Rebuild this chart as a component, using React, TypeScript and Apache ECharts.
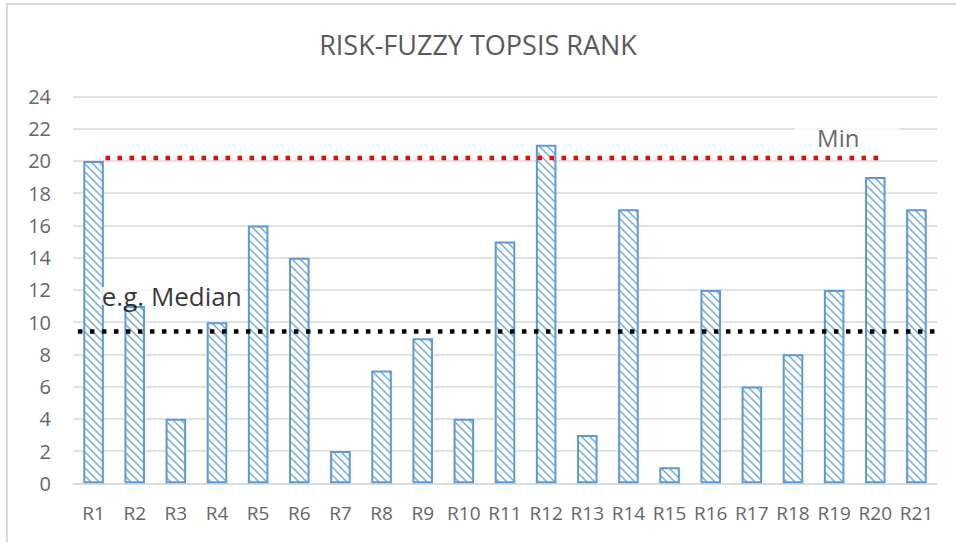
import React, { useEffect, useRef } from "react";
import * as echarts from "echarts";

const categories = ["R1","R2","R3","R4","R5","R6","R7","R8","R9","R10","R11","R12","R13","R14","R15","R16","R17","R18","R19","R20","R21"];
const rankValues = [20, 11, 4, 10, 16, 14, 2, 7, 9, 4, 15, 21, 3, 17, 1, 12, 6, 8, 12, 19, 17];
const yTicks = { min: 0, max: 24, interval: 2 };
// reference lines: x positions in category-index units, y in rank units
const minLineX = [0.29, 19.12];
const minLineY = 20.18;
const medianLineX = [-0.38, 20.5];
const medianLineY = 9.42;
const minLabelPos = [18.1, 21.45];
const medianLabelPos = [1.9, 11.62];

function makeHatch(): HTMLCanvasElement {
  const c = document.createElement("canvas");
  c.width = 8;
  c.height = 8;
  const ctx = c.getContext("2d")!;
  ctx.fillStyle = "#ffffff";
  ctx.fillRect(0, 0, 8, 8);
  for (let y = 0; y < 8; y++) {
    for (let x = 0; x < 8; x++) {
      const d = (x - y + 16) % 8;
      if (d === 0 || d === 2) {
        ctx.fillStyle = "#b3d1ef";
        ctx.fillRect(x, y, 1, 1);
      } else if (d === 1) {
        ctx.fillStyle = "#78abdf";
        ctx.fillRect(x, y, 1, 1);
      }
    }
  }
  return c;
}

export default function App() {
  const ref = useRef<HTMLDivElement>(null);
  useEffect(() => {
    if (!ref.current) return;
    const chart = echarts.init(ref.current, null, { renderer: "svg" });
    const hatch = makeHatch();
    const font = "'Open Sans', 'Noto Sans', sans-serif";
    chart.setOption({
      animation: false,
      backgroundColor: "#ffffff",
      textStyle: { fontFamily: font },
      title: {
        text: "RISK-FUZZY TOPSIS RANK",
        left: "center",
        top: 26,
        textStyle: { fontFamily: font, fontSize: 27, fontWeight: "normal", color: "#595959" },
      },
      graphic: [
        {
          type: "rect",
          shape: { x: 7, y: 4, width: 980, height: 600 },
          style: { fill: "none", stroke: "#d9d9d9", lineWidth: 2 },
          silent: true,
        },
      ],
      grid: { left: 73, right: 19, top: 96.5, bottom: 58.7, containLabel: false },
      xAxis: [
        {
          type: "category",
          data: categories,
          axisLine: { lineStyle: { color: "#d9d9d9", width: 1.5 } },
          axisTick: { show: false },
          axisLabel: { color: "#666666", fontSize: 19, margin: 20, interval: 0, hideOverlap: false, fontFamily: font },
        },
        { type: "value", min: -0.5, max: 20.5, show: false },
      ],
      yAxis: {
        type: "value",
        min: yTicks.min,
        max: yTicks.max,
        interval: yTicks.interval,
        axisLine: { show: false },
        axisTick: { show: false },
        splitLine: { lineStyle: { color: "#d9d9d9", width: 1.5 } },
        axisLabel: { color: "#666666", fontSize: 20, margin: 22, fontFamily: font },
      },
      series: [
        {
          type: "bar",
          data: rankValues,
          barWidth: "50%",
          itemStyle: {
            color: { image: hatch, repeat: "repeat" },
            borderColor: "#5B9BD5",
            borderWidth: 2,
          },
          z: 2,
        },
        {
          type: "line",
          xAxisIndex: 1,
          data: [[minLineX[0], minLineY], [minLineX[1], minLineY]],
          symbol: "none",
          lineStyle: { color: "#ff0000", width: 4.5, type: [4.5, 7.5], cap: "butt" },
          z: 3,
        },
        {
          type: "line",
          xAxisIndex: 1,
          data: [[medianLineX[0], medianLineY], [medianLineX[1], medianLineY]],
          symbol: "none",
          lineStyle: { color: "#000000", width: 4.5, type: [4.5, 7.5], cap: "butt" },
          z: 3,
        },
        {
          type: "scatter",
          xAxisIndex: 1,
          symbolSize: 1,
          itemStyle: { color: "rgba(0,0,0,0)" },
          silent: true,
          z: 4,
          data: [
            {
              value: minLabelPos,
              name: "Min",
              label: {
                show: true,
                position: "inside",
                fontSize: 24,
                color: "#404040",
                fontFamily: font,
                backgroundColor: "#ffffff",
                padding: [2, 40, 2, 22],
                offset: [9, 0],
                formatter: "Min",
              },
            },
            {
              value: medianLabelPos,
              name: "e.g. Median",
              label: {
                show: true,
                position: "inside",
                fontSize: 26,
                lineHeight: 18,
                color: "#000000",
                fontFamily: font,
                backgroundColor: "#ffffff",
                padding: [0, 2, 0, 2],
                formatter: "e.g. Median",
              },
            },
          ],
        },
      ],
    });
    return () => chart.dispose();
  }, []);
  return (
    <div
      ref={ref}
      style={{ position: "absolute", left: 0, top: 0, width: 956, height: 542 }}
    />
  );
}
